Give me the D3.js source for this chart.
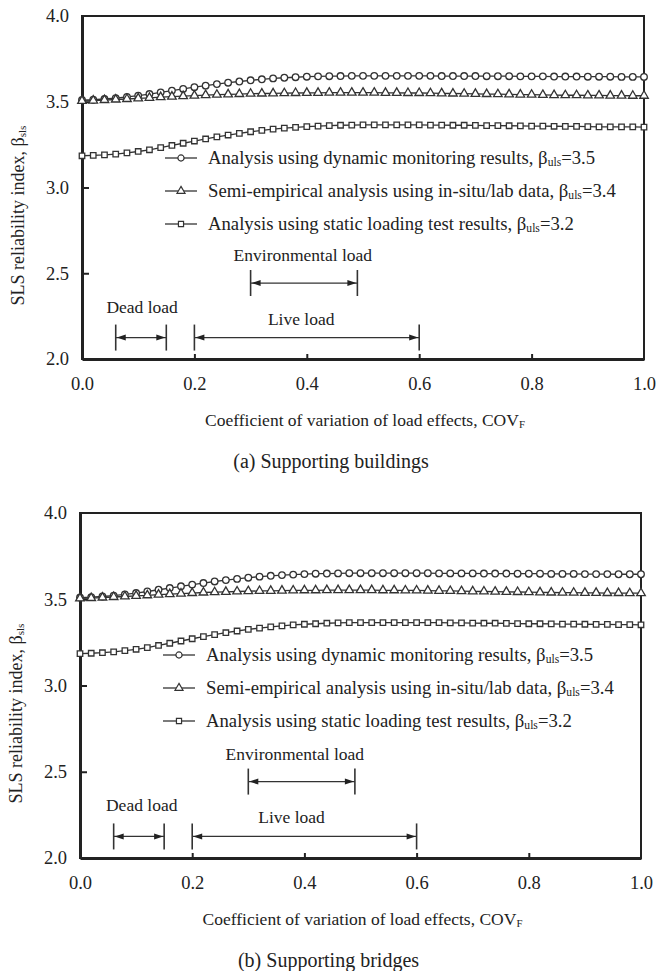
<!DOCTYPE html>
<html>
<head>
<meta charset="utf-8">
<script src="https://cdn.jsdelivr.net/npm/d3@7"></script>
<style>
  html, body { margin: 0; padding: 0; background: #fff; }
  svg { display: block; font-family: "Liberation Serif", "Times New Roman", serif; }
  text { fill: #222; }
</style>
</head>
<body>
<svg id="fig" width="658" height="971"></svg>
<script>
// COV of load effects (x)
const covF = [0, 0.02, 0.04, 0.06, 0.08, 0.10, 0.12, 0.14, 0.16, 0.18,
  0.20, 0.22, 0.24, 0.26, 0.28, 0.30, 0.32, 0.34, 0.36, 0.38,
  0.40, 0.42, 0.44, 0.46, 0.48, 0.50, 0.52, 0.54, 0.56, 0.58,
  0.60, 0.62, 0.64, 0.66, 0.68, 0.70, 0.72, 0.74, 0.76, 0.78,
  0.80, 0.82, 0.84, 0.86, 0.88, 0.90, 0.92, 0.94, 0.96, 0.98, 1.00];

// beta_sls, dynamic monitoring (circles)
const dynamicBeta = [3.510, 3.512, 3.516, 3.521, 3.528, 3.536, 3.545, 3.555, 3.565, 3.575,
  3.585, 3.594, 3.603, 3.611, 3.618, 3.625, 3.631, 3.636, 3.640, 3.643,
  3.646, 3.648, 3.649, 3.650, 3.651, 3.651, 3.651, 3.651, 3.651, 3.651,
  3.651, 3.651, 3.650, 3.650, 3.650, 3.650, 3.649, 3.649, 3.649, 3.648,
  3.648, 3.648, 3.647, 3.647, 3.647, 3.646, 3.646, 3.646, 3.645, 3.645, 3.645];

// beta_sls, semi-empirical (triangles)
const semiBeta = [3.505, 3.507, 3.510, 3.513, 3.516, 3.520, 3.523, 3.527, 3.530, 3.533,
  3.536, 3.539, 3.541, 3.543, 3.545, 3.547, 3.548, 3.549, 3.550, 3.551,
  3.552, 3.552, 3.553, 3.553, 3.553, 3.553, 3.553, 3.552, 3.552, 3.551,
  3.551, 3.550, 3.549, 3.548, 3.547, 3.546, 3.545, 3.544, 3.543, 3.542,
  3.541, 3.540, 3.539, 3.538, 3.538, 3.537, 3.537, 3.536, 3.536, 3.535, 3.535];

// beta_sls, static loading test (squares)
const staticBeta = [3.185, 3.187, 3.190, 3.195, 3.202, 3.210, 3.220, 3.232, 3.245, 3.258,
  3.271, 3.283, 3.295, 3.306, 3.316, 3.325, 3.333, 3.340, 3.346, 3.351,
  3.355, 3.358, 3.361, 3.363, 3.364, 3.365, 3.365, 3.365, 3.365, 3.365,
  3.365, 3.364, 3.364, 3.363, 3.363, 3.362, 3.361, 3.361, 3.360, 3.359,
  3.358, 3.358, 3.357, 3.356, 3.356, 3.355, 3.354, 3.354, 3.353, 3.353, 3.352];

const seriesNames = [
  ['Analysis using dynamic monitoring results, ', '3.5'],
  ['Semi-empirical analysis using in-situ/lab data, ', '3.4'],
  ['Analysis using static loading test results, ', '3.2']
];

const xTicks = [0, 0.2, 0.4, 0.6, 0.8, 1.0];
const yTicks = [2.0, 2.5, 3.0, 3.5, 4.0];

// load ranges: [label, from, to, beta level]
const loadRanges = [
  ['Dead load', 0.06, 0.15, 2.125],
  ['Live load', 0.20, 0.60, 2.125],
  ['Environmental load', 0.30, 0.49, 2.443]
];

const panelCaptions = ['(a) Supporting buildings', '(b) Supporting bridges'];

// layout
const panels = [
  { left: 82, right: 644, top: 16, bottom: 359, labelX: [0.107, 0.39, 0.393] },
  { left: 80, right: 641, top: 513, bottom: 858, labelX: [0.11, 0.377, 0.383] }
];
const labelDy = [-31, -19, -28];

const svg = d3.select('#fig');
const ink = '#222';
const symbols = [d3.symbolCircle, d3.symbolTriangle, d3.symbolSquare];
const symbolSize = [34, 32, 30];

function subText(sel, before, sub, after) {
  sel.append('tspan').text(before);
  sel.append('tspan').attr('font-size', '0.62em').attr('dy', 2).text(sub);
  if (after) sel.append('tspan').attr('dy', -2).text(after);
}

function drawPanel(p, idx) {
  const x = d3.scaleLinear().domain([0, 1]).range([p.left, p.right]);
  const y = d3.scaleLinear().domain([2, 4]).range([p.bottom, p.top]);
  const g = svg.append('g');

  // frame
  g.append('rect')
    .attr('x', p.left).attr('y', p.top)
    .attr('width', p.right - p.left).attr('height', p.bottom - p.top)
    .attr('fill', 'none').attr('stroke', ink).attr('stroke-width', 2);

  const yAxis = g.append('g')
    .attr('transform', `translate(${p.left},0)`)
    .call(d3.axisLeft(y).tickValues(yTicks).tickFormat(d3.format('.1f'))
      .tickSizeInner(-7).tickSizeOuter(0).tickPadding(13));
  const xAxis = g.append('g')
    .attr('transform', `translate(0,${p.bottom})`)
    .call(d3.axisBottom(x).tickValues(xTicks).tickFormat(d3.format('.1f'))
      .tickSizeInner(-5).tickSizeOuter(0).tickPadding(18));
  [yAxis, xAxis].forEach((a) => {
    a.attr('font-family', null).attr('font-size', null);
    a.select('.domain').attr('stroke', ink).attr('stroke-width', 3);
    a.selectAll('.tick line').attr('stroke', ink).attr('stroke-width', 2);
    a.selectAll('.tick text').attr('font-size', 18.5).attr('fill', '#333');
  });
  yAxis.selectAll('.tick').filter((d) => d === 2 || d === 4).select('line').remove();
  xAxis.selectAll('.tick').filter((d) => d === 0 || d === 1).select('line').remove();

  // series
  const allSeries = [dynamicBeta, semiBeta, staticBeta];
  const line = d3.line().x((d) => x(d[0])).y((d) => y(d[1]));
  allSeries.forEach((vals, i) => {
    const pts = covF.map((c, k) => [c, vals[k]]);
    g.append('path').datum(pts).attr('d', line)
      .attr('fill', 'none').attr('stroke', '#333').attr('stroke-width', 1.3);
    g.append('g').selectAll('path').data(pts).join('path')
      .attr('transform', (d) => `translate(${x(d[0])},${y(d[1])})`)
      .attr('d', d3.symbol(symbols[i], symbolSize[i]))
      .attr('fill', '#fff').attr('stroke', '#333').attr('stroke-width', 1.3);
  });

  // legend
  const lg = g.append('g').attr('transform', `translate(${p.left + 83},${p.top + 142})`);
  seriesNames.forEach((s, i) => {
    const row = lg.append('g').attr('transform', `translate(0,${i * 33})`);
    row.append('line').attr('x1', 0).attr('x2', 32).attr('y1', 0).attr('y2', 0)
      .attr('stroke', '#333').attr('stroke-width', 1.3);
    row.append('path').attr('transform', 'translate(16,0)')
      .attr('d', d3.symbol(symbols[i], symbolSize[i] - 4)())
      .attr('fill', '#fff').attr('stroke', '#333').attr('stroke-width', 1.2);
    const t = row.append('text').attr('x', 43).attr('y', 6).attr('font-size', 18.7);
    subText(t, s[0] + 'β', 'uls', '=' + s[1]);
  });

  // load ranges
  const arrowLen = 9, arrowHalf = 3;
  loadRanges.forEach((r, i) => {
    const [label, from, to, level] = r;
    const ay = y(level);
    const x0 = x(from), x1 = x(to);
    const ag = g.append('g');
    [x0, x1].forEach((xx) => {
      ag.append('line').attr('x1', xx).attr('x2', xx)
        .attr('y1', ay - 13).attr('y2', ay + 13)
        .attr('stroke', '#333').attr('stroke-width', 1.6);
    });
    ag.append('line').attr('x1', x0).attr('x2', x1).attr('y1', ay).attr('y2', ay)
      .attr('stroke', '#333').attr('stroke-width', 1.2);
    ag.append('path')
      .attr('d', `M${x0 + 1},${ay}L${x0 + 1 + arrowLen},${ay - arrowHalf}L${x0 + 1 + arrowLen},${ay + arrowHalf}Z`)
      .attr('fill', '#222');
    ag.append('path')
      .attr('d', `M${x1 - 1},${ay}L${x1 - 1 - arrowLen},${ay - arrowHalf}L${x1 - 1 - arrowLen},${ay + arrowHalf}Z`)
      .attr('fill', '#222');
    ag.append('text').attr('x', x(p.labelX[i])).attr('y', ay + labelDy[i] + 6)
      .attr('text-anchor', 'middle').attr('font-size', 17.5).text(label);
  });

  // axis titles
  const xt = g.append('text').attr('x', (p.left + p.right) / 2 + 2).attr('y', p.bottom + 67)
    .attr('text-anchor', 'middle').attr('font-size', 17.5);
  subText(xt, 'Coefficient of variation of load effects, COV', 'F');

  const cy = (p.top + p.bottom) / 2 + 28;
  const yt = g.append('text')
    .attr('transform', `translate(${p.left - 58},${cy}) rotate(-90)`)
    .attr('text-anchor', 'middle').attr('font-size', 18);
  subText(yt, 'SLS reliability index, β', 'sls');

  g.append('text').attr('x', (p.left + p.right) / 2 - 32).attr('y', p.bottom + 109)
    .attr('text-anchor', 'middle').attr('font-size', 20).text(panelCaptions[idx]);
}

panels.forEach(drawPanel);
</script>
</body>
</html>
